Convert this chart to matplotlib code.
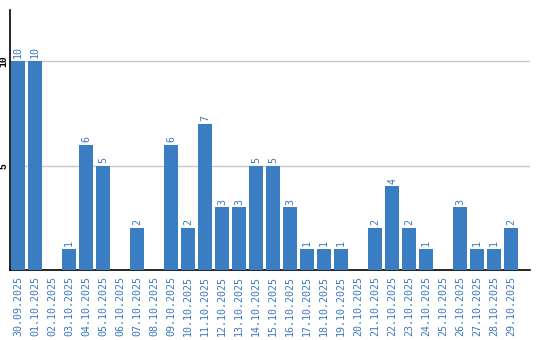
import matplotlib
matplotlib.use("Agg")
import matplotlib.pyplot as plt

dates = ["30.09.2025", "01.10.2025", "02.10.2025", "03.10.2025", "04.10.2025",
         "05.10.2025", "06.10.2025", "07.10.2025", "08.10.2025", "09.10.2025",
         "10.10.2025", "11.10.2025", "12.10.2025", "13.10.2025", "14.10.2025",
         "15.10.2025", "16.10.2025", "17.10.2025", "18.10.2025", "19.10.2025",
         "20.10.2025", "21.10.2025", "22.10.2025", "23.10.2025", "24.10.2025",
         "25.10.2025", "26.10.2025", "27.10.2025", "28.10.2025", "29.10.2025"]
values = [10, 10, 0, 1, 6, 5, 0, 2, 0, 6, 2, 7, 3, 3, 5, 5, 3, 1, 1, 1,
          0, 2, 4, 2, 1, 0, 3, 1, 1, 2]
yticks = [5, 10]

BLUE = "#3b7dc3"
TXT = "#3a78bf"
FONT = "DejaVu Sans Mono"

fig = plt.figure(figsize=(5.4, 3.4), dpi=100)
ax = fig.add_axes([10/540, 1 - 270/340, 520/540, 260/340])

x = list(range(len(dates)))
bars = ax.bar(x, values, width=0.82, color=BLUE, zorder=3)
for xi, v in zip(x, values):
    if v > 0:
        ax.annotate(str(v), (xi, v), xytext=(0, 2), textcoords="offset points",
                    rotation=90, ha="center", va="bottom", color=TXT,
                    fontsize=7.2, family=FONT)

ax.set_xlim(-0.47, 30.1)
ax.set_ylim(0, 12.45)
ax.set_yticks(yticks)
ax.set_yticklabels([str(t) for t in yticks], rotation=90, va="center",
                   fontsize=7, family="Liberation Mono", fontweight="bold",
                   color="black")
ax.yaxis.grid(True, color="#c8c8c8", linewidth=1, zorder=0)
ax.set_xticks(x)
ax.set_xticklabels(dates, rotation=90, fontsize=7.2, family=FONT, color=TXT)
ax.tick_params(axis="both", length=0)
ax.tick_params(axis="x", pad=4)
ax.tick_params(axis="y", pad=1)
for s in ["top", "right"]:
    ax.spines[s].set_visible(False)
for s in ["left", "bottom"]:
    ax.spines[s].set_color("black")
    ax.spines[s].set_linewidth(1.2)

fig.savefig("out.png", dpi=100)
